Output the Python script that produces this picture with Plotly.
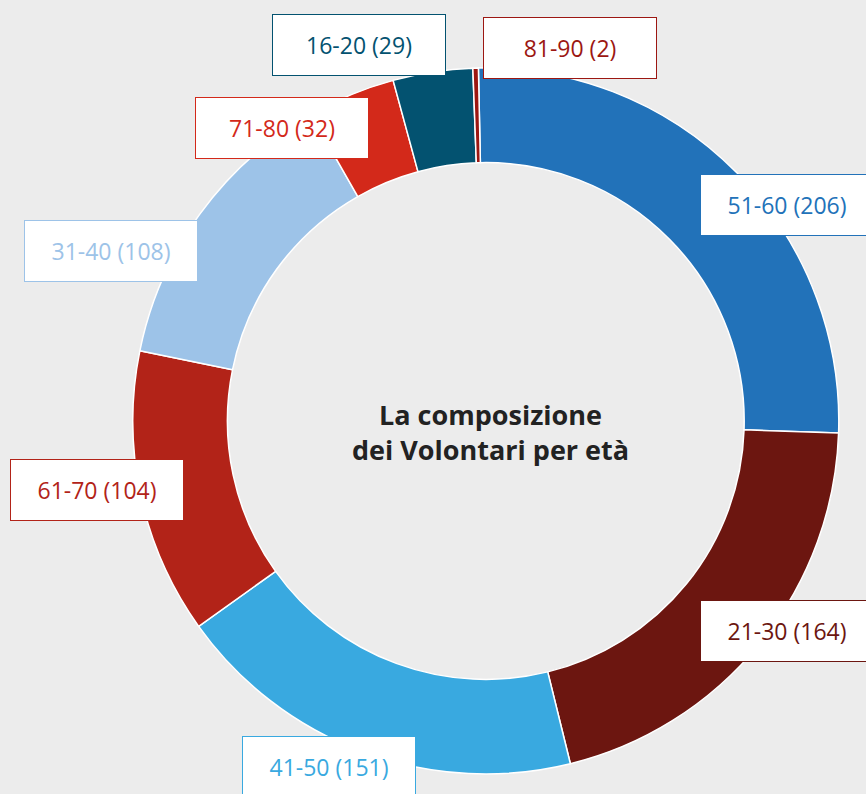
import plotly.graph_objects as go

# Data (clockwise from 12 o'clock)
age_groups = ["51-60", "21-30", "41-50", "61-70", "31-40", "71-80", "16-20", "81-90"]
volunteers = [206, 164, 151, 104, 108, 32, 29, 2]
slice_colors = ["#2272B9", "#6C1610", "#39A9E0", "#B22318", "#9DC3E8", "#D3291A", "#035270", "#9C1712"]

# Label box centres in pixels (layout only)
box_px = {
    "51-60": (787, 204.5),
    "21-30": (787, 631),
    "41-50": (328.5, 767),
    "61-70": (96.5, 490),
    "31-40": (111, 250.5),
    "71-80": (282, 128),
    "16-20": (359, 44.5),
    "81-90": (570, 48),
}

W, H = 866, 794
cx, cy, R = 485.8, 421.0, 353.0

fig = go.Figure()
fig.add_trace(go.Pie(
    labels=age_groups,
    values=volunteers,
    sort=False,
    direction="clockwise",
    rotation=-1.2,
    hole=0.732,
    marker=dict(colors=slice_colors, line=dict(color="white", width=1.5)),
    textinfo="none",
    hoverinfo="label+value",
    showlegend=False,
    domain=dict(x=[(cx - R) / W, (cx + R) / W],
                y=[(H - cy - R) / H, (H - cy + R) / H]),
))

annotations = []
for lab, val, col in zip(age_groups, volunteers, slice_colors):
    px, py = box_px[lab]
    annotations.append(dict(
        x=px / W, y=1 - py / H, xref="paper", yref="paper",
        xanchor="center", yanchor="middle",
        text=f"{lab} ({val})", showarrow=False,
        font=dict(family="Open Sans", size=23, color=col),
        bgcolor="white", bordercolor=col, borderwidth=1, borderpad=0,
        width=172, height=60, align="center", valign="middle",
    ))

annotations.append(dict(
    x=490 / W, y=1 - 432 / H, xref="paper", yref="paper",
    xanchor="center", yanchor="middle",
    text="<b>La composizione<br>dei Volontari per età</b>", showarrow=False,
    font=dict(family="Open Sans", size=27, color="#222222"),
    align="center",
))

fig.update_layout(
    width=W, height=H,
    margin=dict(l=0, r=0, t=0, b=0),
    paper_bgcolor="#ECECEC",
    plot_bgcolor="#ECECEC",
    annotations=annotations,
)

fig.write_html("out.html",
               config={"displayModeBar": False},
               post_script="document.body.style.margin='0px';document.body.style.background='#ECECEC';")
